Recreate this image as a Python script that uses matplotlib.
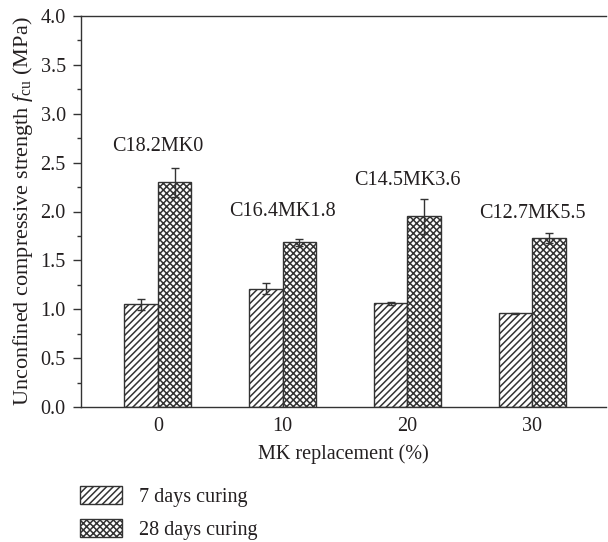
import matplotlib
matplotlib.use('Agg')
import matplotlib.pyplot as plt
import numpy as np
from matplotlib.ticker import MultipleLocator, FormatStrFormatter

# MK replacement levels (%)
mk_levels = [0, 10, 20, 30]
mix_names = ['C18.2MK0', 'C16.4MK1.8', 'C14.5MK3.6', 'C12.7MK5.5']
label_heights = [2.66, 2.0, 2.32, 1.98]

# Unconfined compressive strength (MPa)
fcu_7d = [1.05, 1.21, 1.06, 0.96]
err_7d = [0.055, 0.058, 0.015, 0.006]
fcu_28d = [2.30, 1.685, 1.95, 1.73]
err_28d = [0.15, 0.035, 0.18, 0.054]

plt.rcParams['font.family'] = ['Liberation Serif', 'DejaVu Serif']
plt.rcParams['mathtext.fontset'] = 'custom'
plt.rcParams['mathtext.rm'] = 'Liberation Serif'
plt.rcParams['mathtext.it'] = 'Liberation Serif:italic'
plt.rcParams['hatch.linewidth'] = 1.1

ink = '#231f20'
edge = '#333333'
fs = 14.5

fig = plt.figure(figsize=(6.08, 5.42), dpi=100)
ax = fig.add_axes([81 / 608, 1 - 407 / 542, 525 / 608, 391 / 542])

x = np.array(mk_levels, dtype=float)
width = 2.7
bars7 = ax.bar(x - width / 2, fcu_7d, width, color='white', edgecolor=edge,
               hatch='/////', linewidth=1.0, label='7 days curing')
bars28 = ax.bar(x + width / 2, fcu_28d, width, color='white', edgecolor=edge,
                hatch='xxxxx', linewidth=1.0, label='28 days curing')
ax.errorbar(x - width / 2, fcu_7d, yerr=err_7d, fmt='none', ecolor=edge,
            elinewidth=1.0, capsize=3, capthick=1.0)
ax.errorbar(x + width / 2, fcu_28d, yerr=err_28d, fmt='none', ecolor=edge,
            elinewidth=1.0, capsize=3, capthick=1.0)

for xi, name, h in zip(x, mix_names, label_heights):
    ax.text(xi, h, name, ha='center', va='center', fontsize=fs, color=ink)

ax.set_xlim(-6.15, 35.9)
ax.set_ylim(0, 4.0)
ax.set_xticks(mk_levels)
ax.set_xticklabels([str(v) for v in mk_levels])
ax.yaxis.set_major_locator(MultipleLocator(0.5))
ax.yaxis.set_minor_locator(MultipleLocator(0.25))
ax.yaxis.set_major_formatter(FormatStrFormatter('%.1f'))
ax.tick_params(axis='x', length=0, pad=7, labelsize=fs, colors=ink)
ax.tick_params(axis='y', which='major', length=6, width=1, direction='out',
               pad=5, labelsize=fs, color=edge, labelcolor=ink)
ax.tick_params(axis='y', which='minor', length=3, width=1, direction='out',
               color=edge)

ax.spines['right'].set_visible(False)
for s in ['left', 'top', 'bottom']:
    ax.spines[s].set_color(edge)
    ax.spines[s].set_linewidth(1.0)

ax.set_xlabel('MK replacement (%)', fontsize=fs, color=ink, labelpad=6)
ax.set_ylabel(r'Unconfined compressive strength $f_{\mathrm{cu}}$ (MPa)',
              fontsize=16, color=ink, labelpad=4)

fig.legend(handles=[bars7, bars28], loc='upper left',
           bbox_to_anchor=(80 / 608, 1 - 486 / 542), frameon=False,
           fontsize=fs, handlelength=2.1, handleheight=1.0,
           handletextpad=0.85, labelspacing=0.6, borderpad=0,
           borderaxespad=0, labelcolor=ink)

fig.savefig('out.png', dpi=100)
